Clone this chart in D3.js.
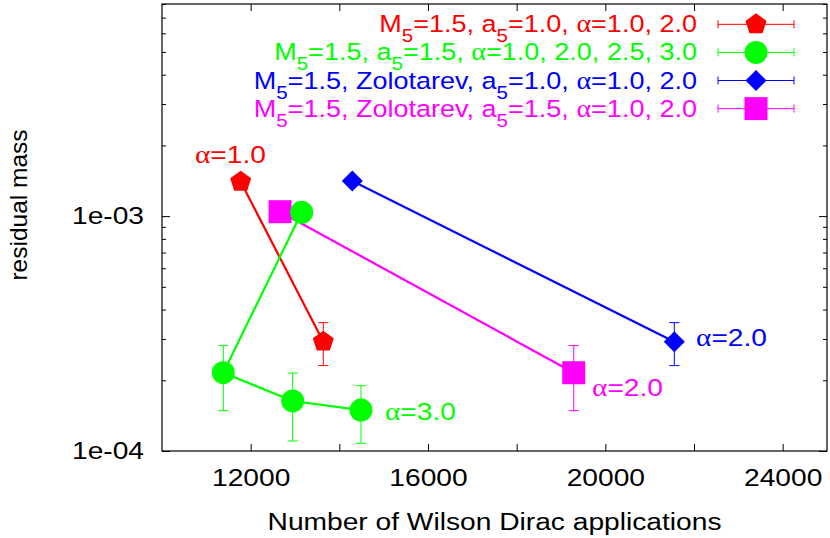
<!DOCTYPE html>
<html>
<head>
<meta charset="utf-8">
<script src="https://cdn.jsdelivr.net/npm/d3@7"></script>
<style>
  body { margin: 0; background: #fff; }
  text { font-family: "Liberation Sans", Arial, Helvetica, sans-serif; }
</style>
</head>
<body>
<div id="chart"></div>
<script>
// ---- data ----
var seriesLabels = [
    'M_5=1.5, a_5=1.0, α=1.0, 2.0',
    'M_5=1.5, a_5=1.5, α=1.0, 2.0, 2.5, 3.0',
    'M_5=1.5, Zolotarev, a_5=1.0, α=1.0, 2.0',
    'M_5=1.5, Zolotarev, a_5=1.5, α=1.0, 2.0'
];
// number of Wilson Dirac applications
var applications = [
    [11775, 13638],
    [13151, 11383, 12948, 14489],
    [14293, 21556],
    [12662, 19287]
];
// residual mass and its error range
var residual = [
    [1.401e-3, 2.92e-4],
    [1.038e-3, 2.154e-4, 1.633e-4, 1.494e-4],
    [1.41e-3, 2.92e-4],
    [1.044e-3, 2.154e-4]
];
var residualLow = [
    [1.37e-3, 2.31e-4],
    [1.01e-3, 1.485e-4, 1.103e-4, 1.078e-4],
    [1.38e-3, 2.31e-4],
    [1.02e-3, 1.485e-4]
];
var residualHigh = [
    [1.43e-3, 3.52e-4],
    [1.06e-3, 2.81e-4, 2.148e-4, 1.897e-4],
    [1.44e-3, 3.52e-4],
    [1.07e-3, 2.81e-4]
];
// alpha annotations: series index, text, data position
var noteSeries = [0, 1, 2, 3];
var noteText = ['α=1.0', 'α=3.0', 'α=2.0', 'α=2.0'];
var noteX = [10744, 15030, 22046, 19700];
var noteY = [1.68e-3, 1.35e-4, 2.80e-4, 1.71e-4];

var xTicks = [12000, 14000, 16000, 18000, 20000, 22000, 24000];
var yMajor = [1e-4, 1e-3];
var yMinor = [2e-4, 3e-4, 4e-4, 5e-4, 6e-4, 7e-4, 8e-4, 9e-4,
              2e-3, 3e-3, 4e-3, 5e-3, 6e-3, 7e-3, 8e-3];

// ---- styles ----
var colors = ['#ff0000', '#00ff00', '#0000ff', '#ff00ff'];
var stretch = 'scale(1.15,1)';
var fontSize = 24.5;

var margin = {top: 4, right: 3, bottom: 87, left: 162};
var width = 830 - margin.left - margin.right;
var height = 538 - margin.top - margin.bottom;

var svg = d3.select('#chart')
    .append('svg')
    .attr('width', 830)
    .attr('height', 538);

var chart = svg.append('g')
    .attr('transform', 'translate(' + margin.left + ',' + margin.top + ')');

var x = d3.scaleLinear().domain([10000, 25000]).range([0, width]);
var y = d3.scaleLog().domain([1e-4, 8e-3]).range([height, 0]);

// symbols
var pentagon = {
    draw: function(ctx, size) {
        var r = Math.sqrt(size / 2.378);
        for (var i = 0; i < 5; i++) {
            var a = -Math.PI / 2 + i * 2 * Math.PI / 5;
            if (i == 0) ctx.moveTo(r * Math.cos(a), r * Math.sin(a));
            else ctx.lineTo(r * Math.cos(a), r * Math.sin(a));
        }
        ctx.closePath();
    }
};
var diamond = {
    draw: function(ctx, size) {
        var r = Math.sqrt(size / 2);
        ctx.moveTo(0, -r);
        ctx.lineTo(r, 0);
        ctx.lineTo(0, r);
        ctx.lineTo(-r, 0);
        ctx.closePath();
    }
};
var symbolTypes = [pentagon, d3.symbolCircle, diamond, d3.symbolSquare];
var symbolSizes = [290, 415, 220, 529];

function symbolPath(i) {
    return d3.symbol().type(symbolTypes[i]).size(symbolSizes[i])();
}

// ---- axes ----
function fixAxis(g) {
    g.select('.domain').remove();
    g.selectAll('.tick line').attr('stroke', '#000');
}

chart.append('g')
    .attr('transform', 'translate(0,' + height + ')')
    .call(d3.axisBottom(x).tickValues(xTicks).tickSizeInner(-7).tickSizeOuter(0).tickPadding(18)
        .tickFormat(function(d) { return d % 4000 == 0 ? d : ''; }))
    .call(fixAxis)
    .selectAll('text')
    .attr('fill', '#000')
    .style('font-size', fontSize + 'px')
    .attr('transform', stretch);

chart.append('g')
    .call(d3.axisTop(x).tickValues(xTicks).tickSizeInner(-7).tickSizeOuter(0).tickFormat(''))
    .call(fixAxis);

chart.append('g')
    .call(d3.axisLeft(y).tickValues(yMajor).tickSizeInner(-8).tickSizeOuter(0)
        .tickFormat(function(d) { return d3.format('.0e')(d).replace('e-', 'e-0'); }))
    .call(fixAxis)
    .selectAll('text')
    .attr('fill', '#000')
    .attr('x', -18 / 1.15)
    .style('font-size', fontSize + 'px')
    .attr('transform', stretch);

chart.append('g')
    .call(d3.axisLeft(y).tickValues(yMinor).tickSizeInner(-4).tickSizeOuter(0).tickFormat(''))
    .call(fixAxis);

chart.append('g')
    .attr('transform', 'translate(' + width + ',0)')
    .call(d3.axisRight(y).tickValues(yMajor).tickSizeInner(-8).tickSizeOuter(0).tickFormat(''))
    .call(fixAxis);

chart.append('g')
    .attr('transform', 'translate(' + width + ',0)')
    .call(d3.axisRight(y).tickValues(yMinor).tickSizeInner(-4).tickSizeOuter(0).tickFormat(''))
    .call(fixAxis);

chart.append('rect')
    .attr('width', width)
    .attr('height', height)
    .attr('fill', 'none')
    .attr('stroke', '#000')
    .attr('stroke-width', 1.2);

// axis titles
svg.append('text')
    .attr('transform', 'translate(' + (margin.left + width / 2) + ',530) ' + stretch)
    .attr('text-anchor', 'middle')
    .style('font-size', fontSize + 'px')
    .text('Number of Wilson Dirac applications');

svg.append('text')
    .attr('transform', 'translate(27,205) rotate(-90)')
    .attr('text-anchor', 'middle')
    .style('font-size', fontSize + 'px')
    .text('residual mass');

// ---- rich labels (subscripts, greek) ----
function richText(sel, label, size) {
    var parts = label.split(/(_5|α)/);
    var shift = 0;
    parts.forEach(function(p) {
        if (p == '') return;
        var ts = sel.append('tspan');
        if (shift) { ts.attr('dy', shift); shift = 0; }
        if (p == '_5') {
            ts.attr('dy', 10).style('font-size', (size * 0.76) + 'px').text('5');
            shift = -10;
        } else if (p == 'α') {
            ts.style('font-family', '"Liberation Serif", "Times New Roman", serif')
                .style('font-size', (size * 1.04) + 'px').text('α');
        } else {
            ts.text(p);
        }
    });
}

// ---- data marks ----
var series = applications.map(function(xs, s) {
    return xs.map(function(v, i) {
        return {x: v, y: residual[s][i], lo: residualLow[s][i], hi: residualHigh[s][i]};
    });
});

var line = d3.line()
    .x(function(d) { return x(d.x); })
    .y(function(d) { return y(d.y); });

// lines first, then error bars, then markers
series.forEach(function(pts, s) {
    chart.append('path')
        .attr('d', line(pts))
        .attr('fill', 'none')
        .attr('stroke', colors[s])
        .attr('stroke-width', 2.2);
});

series.forEach(function(pts, s) {
    var eb = chart.append('g').attr('stroke', colors[s]).attr('stroke-width', 1);
    eb.selectAll('line.bar').data(pts).enter().append('line')
        .attr('x1', function(d) { return x(d.x); })
        .attr('x2', function(d) { return x(d.x); })
        .attr('y1', function(d) { return y(d.lo); })
        .attr('y2', function(d) { return y(d.hi); });
    ['lo', 'hi'].forEach(function(k) {
        eb.selectAll('line.cap' + k).data(pts).enter().append('line')
            .attr('x1', function(d) { return x(d.x) - 5; })
            .attr('x2', function(d) { return x(d.x) + 5; })
            .attr('y1', function(d) { return y(d[k]); })
            .attr('y2', function(d) { return y(d[k]); });
    });
});

[0, 3, 2, 1].forEach(function(s) {
    chart.selectAll('path.m' + s).data(series[s]).enter().append('path')
        .attr('transform', function(d) { return 'translate(' + x(d.x) + ',' + y(d.y) + ')'; })
        .attr('d', symbolPath(s))
        .attr('fill', colors[s]);
});

// alpha notes
noteText.forEach(function(t, i) {
    var txt = chart.append('text')
        .attr('transform', 'translate(' + x(noteX[i]) + ',' + y(noteY[i]) + ') ' + stretch)
        .attr('fill', colors[noteSeries[i]])
        .style('font-size', fontSize + 'px');
    richText(txt, t, fontSize);
});

// ---- legend ----
var legendSize = 23.5;
var legend = svg.append('g');
seriesLabels.forEach(function(label, i) {
    var ry = 24.3 + i * 28.1;
    var txt = legend.append('text')
        .attr('transform', 'translate(697,' + (ry + 8) + ') ' + stretch)
        .attr('text-anchor', 'end')
        .attr('fill', colors[i])
        .style('font-size', legendSize + 'px');
    richText(txt, label, legendSize);
    var g = legend.append('g').attr('stroke', colors[i]).attr('stroke-width', 1);
    g.append('line').attr('x1', 718).attr('x2', 794).attr('y1', ry).attr('y2', ry);
    g.append('line').attr('x1', 718).attr('x2', 718).attr('y1', ry - 4).attr('y2', ry + 4);
    g.append('line').attr('x1', 794).attr('x2', 794).attr('y1', ry - 4).attr('y2', ry + 4);
    legend.append('path')
        .attr('transform', 'translate(756,' + ry + ')')
        .attr('d', symbolPath(i))
        .attr('fill', colors[i]);
});
</script>
</body>
</html>
